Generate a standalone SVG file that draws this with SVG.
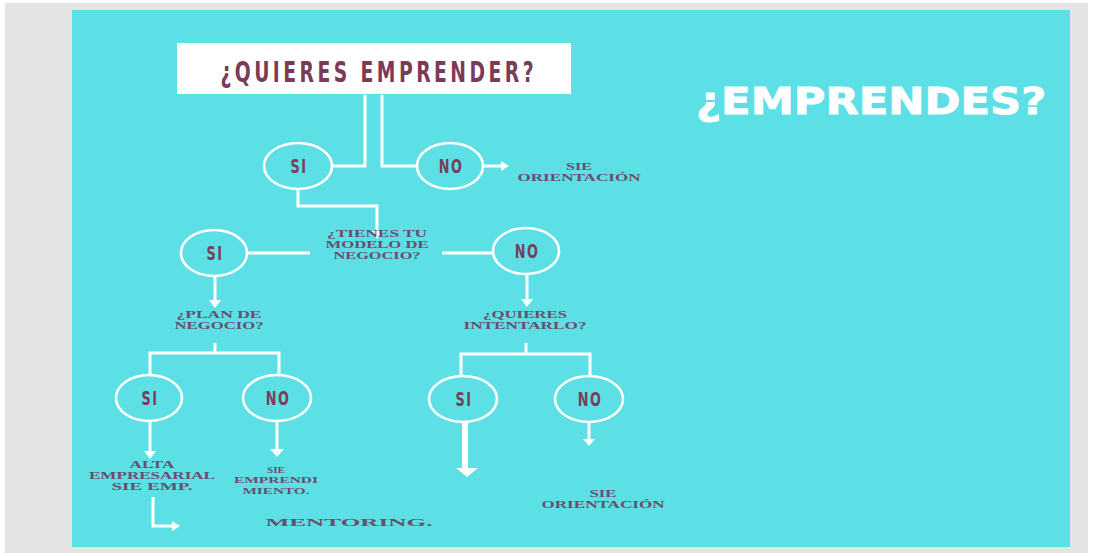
<svg xmlns="http://www.w3.org/2000/svg" width="1093" height="556" viewBox="0 0 1093 556">
<style>
.oval{fill:none;stroke:#ffffff;stroke-width:2.6}
.yn{font-family:"DejaVu Sans Condensed","Liberation Sans",sans-serif;font-weight:bold;font-size:19px;fill:#7a3d5a;text-anchor:middle;letter-spacing:2px}
.lbl{font-family:"Liberation Serif",serif;font-weight:bold;font-size:10.5px;fill:#6b4d6d;text-anchor:middle}
.sm{font-size:8.5px}
.ln{fill:none;stroke:#ffffff;stroke-width:3;stroke-linejoin:miter}
.ah{fill:#ffffff}
</style>
<rect x="0" y="0" width="1093" height="556" fill="#ffffff"/>
<rect x="5" y="3" width="1083" height="550" fill="#e4e4e4"/>
<rect x="72" y="10" width="998" height="537" fill="#5ce0e6"/>

<g id="title-box">
<rect x="177" y="43" width="394" height="51" fill="#ffffff"/>
<text transform="translate(377,82) scale(0.72,1)" x="0" y="0" font-family="DejaVu Sans Condensed,Liberation Sans,sans-serif" font-weight="bold" font-size="29" fill="#7b3a55" text-anchor="middle" textLength="435" lengthAdjust="spacing">¿QUIERES EMPRENDER?</text>
</g>

<g id="heading">
<text transform="translate(696,114) scale(1.17,1)" x="0" y="0" font-family="DejaVu Sans,Liberation Sans,sans-serif" font-weight="bold" font-size="37" fill="#ffffff" stroke="#ffffff" stroke-width="0.8">¿EMPRENDES?</text>
</g>

<g id="connectors">
<polyline class="ln" points="365,95 365,166 332,166"/>
<polyline class="ln" points="382,95 382,166 418,166"/>
<line class="ln" x1="483" y1="166" x2="502" y2="166"/>
<polygon class="ah" points="501,161 509,166 501,171"/>
<polyline class="ln" points="298,189 298,206 377,206 377,232"/>
<polygon class="ah" points="371,231 377,239 383,231"/>
<line class="ln" x1="247" y1="253" x2="310" y2="253"/>
<line class="ln" x1="442" y1="253" x2="493" y2="253"/>
<line class="ln" x1="215" y1="277" x2="215" y2="301"/>
<polygon class="ah" points="209,300 215,308 221,300"/>
<line class="ln" x1="527" y1="275" x2="527" y2="300"/>
<polygon class="ah" points="521,299 527,307 533,299"/>
<polyline class="ln" points="215,343 215,353"/>
<polyline class="ln" points="150,375 150,353 279,353 279,375"/>
<polyline class="ln" points="526,343 526,354"/>
<polyline class="ln" points="461,376 461,354 590,354 590,376"/>
<line class="ln" x1="150" y1="422" x2="150" y2="452"/>
<polygon class="ah" points="144,451 150,459 156,451"/>
<line class="ln" x1="277" y1="422" x2="277" y2="450"/>
<polygon class="ah" points="270,449 277,457 284,449"/>
<polyline class="ln" points="153,497 153,526 172,526"/>
<polygon class="ah" points="172,521 180,526 172,531"/>
<line x1="465" y1="423" x2="465" y2="469" stroke="#ffffff" stroke-width="6"/>
<polygon class="ah" points="456,468 478,468 467,477"/>
<line class="ln" x1="589" y1="423" x2="589" y2="440"/>
<polygon class="ah" points="583,439 589,446 595,439"/>
</g>

<g id="si-1"><ellipse class="oval" cx="298" cy="166" rx="34" ry="23"/><text class="yn" transform="translate(299,173) scale(0.75,1)">SI</text></g>
<g id="no-1"><ellipse class="oval" cx="450" cy="166" rx="33" ry="23"/><text class="yn" transform="translate(451,173) scale(0.75,1)">NO</text></g>
<g id="sie-orientacion-1"><text class="lbl" x="579" y="170" textLength="26" lengthAdjust="spacingAndGlyphs">SIE</text><text class="lbl" x="579" y="181" textLength="123" lengthAdjust="spacingAndGlyphs">ORIENTACIÓN</text></g>

<g id="modelo-negocio">
<text class="lbl" x="377" y="237" textLength="100" lengthAdjust="spacingAndGlyphs">¿TIENES TU</text>
<text class="lbl" x="377" y="248" textLength="103" lengthAdjust="spacingAndGlyphs">MODELO DE</text>
<text class="lbl" x="377" y="259" textLength="87" lengthAdjust="spacingAndGlyphs">NEGOCIO?</text>
</g>
<g id="si-2"><ellipse class="oval" cx="214" cy="253" rx="33" ry="23"/><text class="yn" transform="translate(215,260) scale(0.75,1)">SI</text></g>
<g id="no-2"><ellipse class="oval" cx="526" cy="251" rx="33" ry="23"/><text class="yn" transform="translate(527,258) scale(0.75,1)">NO</text></g>

<g id="plan-negocio">
<text class="lbl" x="219" y="318" textLength="85" lengthAdjust="spacingAndGlyphs">¿PLAN DE</text>
<text class="lbl" x="219" y="329" textLength="89" lengthAdjust="spacingAndGlyphs">NEGOCIO?</text>
</g>
<g id="quieres-intentarlo">
<text class="lbl" x="525" y="318" textLength="84" lengthAdjust="spacingAndGlyphs">¿QUIERES</text>
<text class="lbl" x="525" y="329" textLength="123" lengthAdjust="spacingAndGlyphs">INTENTARLO?</text>
</g>

<g id="si-3"><ellipse class="oval" cx="149" cy="398" rx="33" ry="23"/><text class="yn" transform="translate(150,405) scale(0.75,1)">SI</text></g>
<g id="no-3"><ellipse class="oval" cx="277" cy="398" rx="34" ry="23"/><text class="yn" transform="translate(278,405) scale(0.75,1)">NO</text></g>
<g id="si-4"><ellipse class="oval" cx="463" cy="399" rx="34" ry="23"/><text class="yn" transform="translate(464,406) scale(0.75,1)">SI</text></g>
<g id="no-4"><ellipse class="oval" cx="589" cy="399" rx="34" ry="23"/><text class="yn" transform="translate(590,406) scale(0.75,1)">NO</text></g>

<g id="alta-empresarial">
<text class="lbl" x="152" y="468" textLength="45" lengthAdjust="spacingAndGlyphs">ALTA</text>
<text class="lbl" x="152" y="479" textLength="126" lengthAdjust="spacingAndGlyphs">EMPRESARIAL</text>
<text class="lbl" x="152" y="490" textLength="81" lengthAdjust="spacingAndGlyphs">SIE  EMP.</text>
</g>
<g id="sie-emprendimiento">
<text class="lbl sm" x="276" y="473" textLength="18" lengthAdjust="spacingAndGlyphs">SIE</text>
<text class="lbl sm" x="276" y="483" textLength="84" lengthAdjust="spacingAndGlyphs">EMPRENDI</text>
<text class="lbl sm" x="276" y="494" textLength="67" lengthAdjust="spacingAndGlyphs">MIENTO.</text>
</g>
<g id="mentoring">
<text class="lbl" x="349" y="526" font-size="17" font-weight="normal" textLength="167" lengthAdjust="spacingAndGlyphs" fill="#6d4a6b">MENTORING.</text>
</g>
<g id="sie-orientacion-2">
<text class="lbl" x="603" y="497" textLength="27" lengthAdjust="spacingAndGlyphs">SIE</text>
<text class="lbl" x="603" y="508" textLength="123" lengthAdjust="spacingAndGlyphs">ORIENTACIÓN</text>
</g>
</svg>
